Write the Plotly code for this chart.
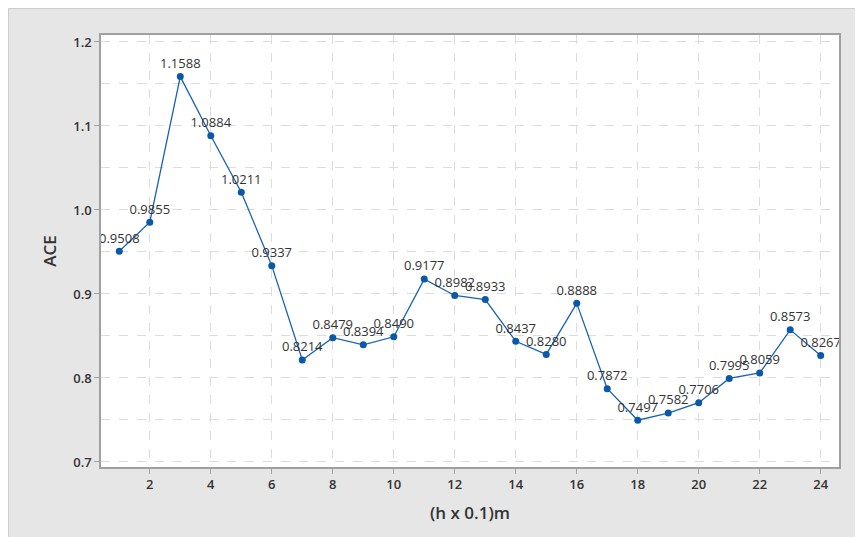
import plotly.graph_objects as go

h = list(range(1, 25))
ace = [0.9508, 0.9855, 1.1588, 1.0884, 1.0211, 0.9337, 0.8214, 0.8479, 0.8394, 0.8490,
       0.9177, 0.8982, 0.8933, 0.8437, 0.8280, 0.8888, 0.7872, 0.7497, 0.7582, 0.7706,
       0.7995, 0.8059, 0.8573, 0.8267]
labels = [f"{v:.4f}" for v in ace]
x_ticks = list(range(2, 25, 2))
y_ticks = [0.7, 0.8, 0.9, 1.0, 1.1, 1.2]
y_ticktext = ["0.7", "0.8", "0.9", "1.0", "1.1", "1.2"]

W, H = 863, 537
L, R, T, B = 93, 32, 27, 78
pw, ph = W - L - R, H - T - B

fig = go.Figure()
fig.add_trace(go.Scatter(
    x=h, y=ace, mode="lines+markers+text",
    text=labels, textposition="top center",
    textfont=dict(family="Open Sans", size=13, color="#333333"),
    line=dict(color="#1762b4", width=1.3),
    marker=dict(color="#0a58a8", size=7),
    cliponaxis=False, showlegend=False,
))

grid = dict(showgrid=True, gridcolor="#dcdcdc", gridwidth=1, griddash="dash")
fig.update_xaxes(
    range=[0.4, 24.6], tickvals=x_ticks, ticks="outside", ticklen=5,
    tickcolor="#a0a0a0", showline=True, linecolor="#a0a0a0", linewidth=1.5,
    mirror=True, zeroline=False,
    tickfont=dict(family="Open Sans", size=13, color="#333333", weight=600),
    title=dict(text="(h x 0.1)m", standoff=15,
               font=dict(family="Open Sans", size=17, color="#333333", weight=600)),
    **grid,
)
fig.update_yaxes(
    range=[0.694, 1.2083], tickvals=y_ticks, ticktext=y_ticktext, ticks="outside",
    ticklen=5, tickcolor="#a0a0a0", showline=True, linecolor="#a0a0a0", linewidth=1.5,
    mirror=True, zeroline=False,
    minor=dict(dtick=0.05, tick0=0.7, showgrid=True, gridcolor="#dcdcdc",
               griddash="dash", ticks=""),
    tickfont=dict(family="Open Sans", size=13, color="#333333", weight=600),
    title=dict(text="ACE", standoff=12,
               font=dict(family="Open Sans", size=17, color="#333333", weight=600)),
    **grid,
)

x_left = -(L - 0.5) / pw
y_top = 1 + (T - 0.5) / ph
shapes = [
    dict(type="line", xref="paper", yref="paper", x0=x_left, x1=x_left, y0=y_top, y1=-2,
         line=dict(color="#cdcdcd", width=1)),
    dict(type="line", xref="paper", yref="paper", x0=x_left, x1=2, y0=y_top, y1=y_top,
         line=dict(color="#cdcdcd", width=1)),
]

fig.update_layout(
    width=W, height=H,
    margin=dict(l=L, r=R, t=T, b=B),
    paper_bgcolor="#e6e6e6", plot_bgcolor="white",
    shapes=shapes,
    font=dict(family="Open Sans"),
)

fig.write_html("out.html")
